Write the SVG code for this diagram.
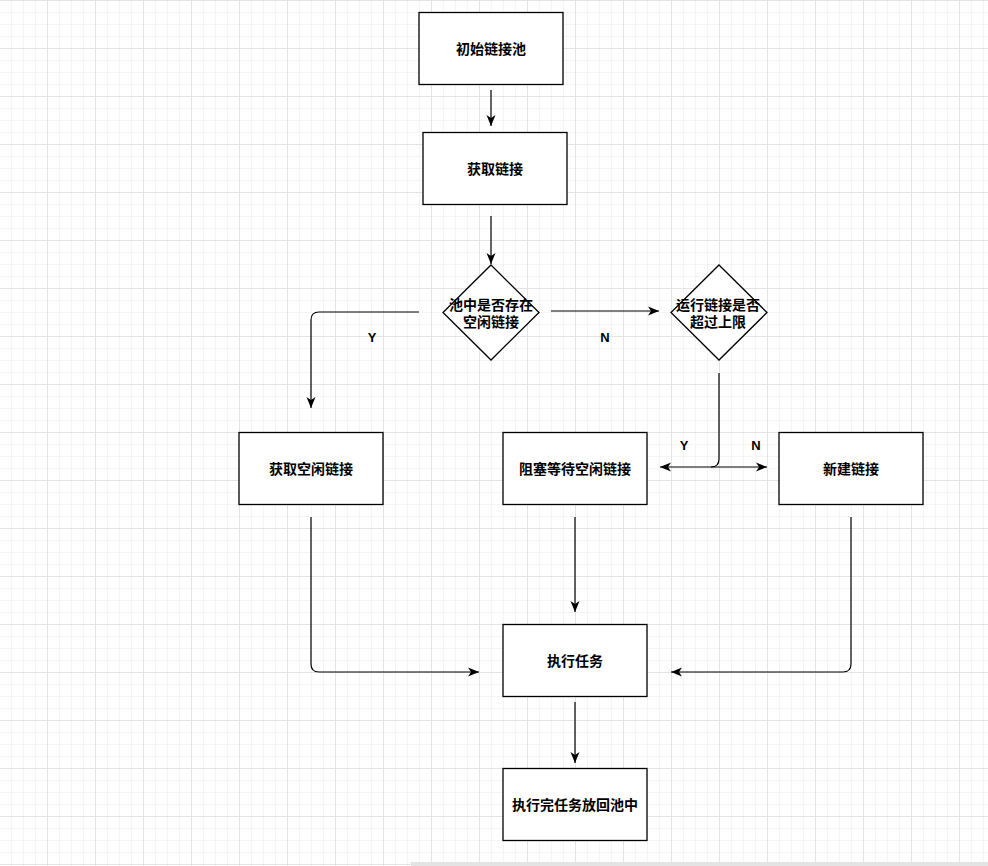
<svg xmlns="http://www.w3.org/2000/svg" width="988" height="866" viewBox="0 0 988 866">
<defs>
<pattern id="minor" x="-1" y="0" width="12" height="12" patternUnits="userSpaceOnUse">
<rect x="0" y="0" width="1" height="12" fill="#f4f4f4"/>
<rect x="0" y="0" width="12" height="1" fill="#f4f4f4"/>
</pattern>
<pattern id="major" x="-1" y="0" width="48" height="48" patternUnits="userSpaceOnUse">
<rect x="0" y="0" width="1" height="48" fill="#e4e4e4"/>
<rect x="0" y="0" width="48" height="1" fill="#e4e4e4"/>
</pattern>
<marker id="arr" viewBox="0 0 12 10" markerWidth="12" markerHeight="10" refX="11" refY="5" orient="auto-start-reverse" markerUnits="userSpaceOnUse">
<path d="M0,0.5 L11,5 L0,9.5 L3,5 Z" fill="#000"/>
</marker>
</defs>
<style>
.box{fill:#fff;stroke:#000;stroke-width:1.3}
.t{font-family:"Liberation Sans","Noto Sans CJK SC",sans-serif;font-size:14px;font-weight:bold;fill:#000;text-anchor:middle;dominant-baseline:central}
.lbl{font-family:"Liberation Sans","Noto Sans CJK SC",sans-serif;font-size:13px;font-weight:bold;fill:#000;text-anchor:middle;dominant-baseline:central}
.e{fill:none;stroke:#000;stroke-width:1.2}
</style>
<rect width="988" height="866" fill="#fff"/>
<rect width="988" height="866" fill="url(#minor)"/>
<rect width="988" height="866" fill="url(#major)"/>
<rect x="411" y="862" width="577" height="4" fill="#e4e4e4"/>

<g id="connectors">
<path class="e" d="M491,90 V126" marker-end="url(#arr)"/>
<path class="e" d="M491,216 V264" marker-end="url(#arr)"/>
<path class="e" d="M419,312 H319 Q311,312 311,320 V408" marker-end="url(#arr)"/>
<path class="e" d="M551,311 H659" marker-end="url(#arr)"/>
<path class="e" d="M719,373 V459 Q719,467 711,467 H660" marker-end="url(#arr)"/>
<path class="e" d="M711,467 H767" marker-end="url(#arr)"/>
<path class="e" d="M311,517 V664 Q311,672 319,672 H479" marker-end="url(#arr)"/>
<path class="e" d="M575,517 V612" marker-end="url(#arr)"/>
<path class="e" d="M851,517 V664 Q851,672 843,672 H671" marker-end="url(#arr)"/>
<path class="e" d="M575,702 V763" marker-end="url(#arr)"/>
<text class="lbl" x="372" y="337">Y</text>
<text class="lbl" x="605" y="337">N</text>
<text class="lbl" x="684" y="445">Y</text>
<text class="lbl" x="756" y="445">N</text>
</g>

<g id="n_init"><rect class="box" x="419" y="12.5" width="144" height="72"/><text class="t" x="491" y="48.5">初始链接池</text></g>
<g id="n_get"><rect class="box" x="423" y="132.5" width="144" height="72"/><text class="t" x="495" y="168.5">获取链接</text></g>
<g id="n_dec1"><polygon class="box" points="491,265 539,312.5 491,360 443,312.5"/><text class="t" x="491" y="305">池中是否存在</text><text class="t" x="491" y="322">空闲链接</text></g>
<g id="n_dec2"><polygon class="box" points="719,265 767,312.5 719,360 671,312.5"/><text class="t" x="718" y="305">运行链接是否</text><text class="t" x="718" y="322">超过上限</text></g>
<g id="n_idle"><rect class="box" x="239" y="432.5" width="144" height="72"/><text class="t" x="311" y="468.5">获取空闲链接</text></g>
<g id="n_wait"><rect class="box" x="503" y="432.5" width="144" height="72"/><text class="t" x="575" y="468.5">阻塞等待空闲链接</text></g>
<g id="n_new"><rect class="box" x="779" y="432.5" width="144" height="72"/><text class="t" x="851" y="468.5">新建链接</text></g>
<g id="n_exec"><rect class="box" x="503" y="624.5" width="144" height="72"/><text class="t" x="575" y="660.5">执行任务</text></g>
<g id="n_back"><rect class="box" x="503" y="768.5" width="144" height="72"/><text class="t" x="575" y="804.5">执行完任务放回池中</text></g>
</svg>
